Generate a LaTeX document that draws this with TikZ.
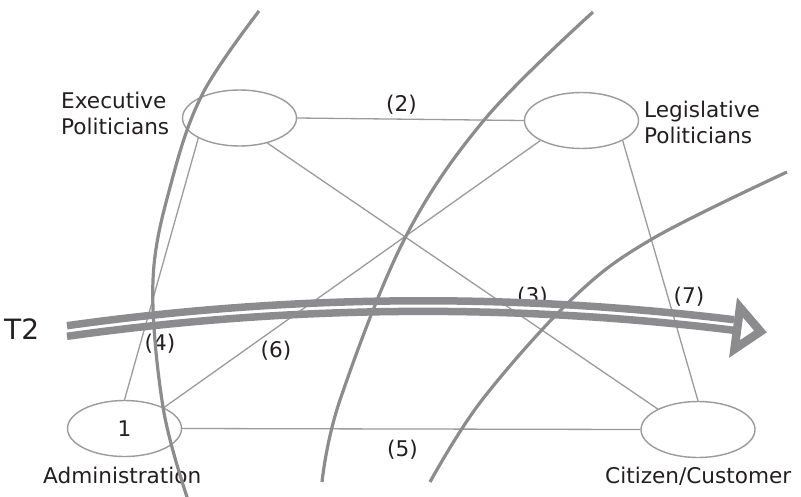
\documentclass[tikz,border=0pt]{standalone}
\usepackage{fontspec}
\setmainfont{DejaVu Sans}
\usetikzlibrary{shapes.geometric}
\definecolor{thin}{HTML}{9B9B9B}
\definecolor{arcg}{HTML}{8C8C8E}
\definecolor{txt}{HTML}{231F20}
\begin{document}
\begin{tikzpicture}[x=1pt,y=-1pt,
  actor/.style={ellipse, draw=thin, line width=1.4pt, minimum width=114pt, minimum height=56pt, inner sep=0pt, text=txt, font=\fontsize{21.6}{25.5}\selectfont},
  link/.style={draw=thin, line width=1.3pt},
  lbl/.style={font=\fontsize{21.6}{25.5}\selectfont, text=txt, inner sep=0pt},
  bigarc/.style={draw=arcg, line width=3.2pt},
  band/.style={draw=arcg, line width=7.5pt}]
\fill[white] (0,0) rectangle (801,496);
\useasboundingbox (0,0) rectangle (801,496);
% actors
\node[actor] (exec) at (239.5,118) {};
\node[actor] (legis) at (581.5,120.5) {};
\node[actor] (admin) at (124.5,428.5) {1};
\node[actor] (cit) at (698,429.5) {};
% connectors
\draw[link] (exec.0) -- (legis.180);
\draw[link] (exec.206) -- (admin.90);
\draw[link] (exec.318) -- (cit.153);
\draw[link] (legis.206) -- (admin.28);
\draw[link] (legis.334) -- (cit.90);
\draw[link] (admin.0) -- (cit.180);
% connector labels
\node[lbl] (l2) at (401.5,105) {(2)};
\node[lbl] (l3) at (532.5,297) {(3)};
\node[lbl] (l4) at (160,344) {(4)};
\node[lbl] (l5) at (402.5,450) {(5)};
\node[lbl] (l6) at (276,351) {(6)};
\node[lbl] (l7) at (689,297) {(7)};
% actor texts
\node[lbl, anchor=base west, align=left] (exectxt) at (61,134) {Executive\\Politicians};
\node[lbl, anchor=base west, align=left] (legtxt) at (644,143) {Legislative\\Politicians};
\node[lbl, anchor=base west] (admintxt) at (43,483) {Administration};
\node[lbl, anchor=base west] (cittxt) at (605,483) {Citizen/Customer};
\node[font=\fontsize{28}{30}\selectfont, text=txt, inner sep=0pt, anchor=base west] (t2) at (4,339) {T2};
% T2 arrow
\draw[band] (67,325.7) .. controls (289.3,294.6) and (511.7,292.6) .. (734,319.7);
\draw[band] (67,336.3) .. controls (289.3,305.2) and (511.7,303.2) .. (734,330.3);
\draw[draw=arcg, line width=8.5pt, fill=white, line join=miter] (740,307.5) -- (760.5,331.5) -- (734.5,349) -- cycle;
% boundary arcs
\draw[bigarc] plot[smooth, tension=0.6] coordinates {(259,11) (203,93) (172,180) (153,280) (163,407) (188,500)};
\draw[bigarc] plot[smooth, tension=0.6] coordinates {(593,12) (485,119) (405,238) (340,400) (322,482)};
\draw[bigarc] plot[smooth, tension=0.6] coordinates {(787,172) (652,239) (573,298) (482,400) (430,482)};
\end{tikzpicture}
\end{document}
